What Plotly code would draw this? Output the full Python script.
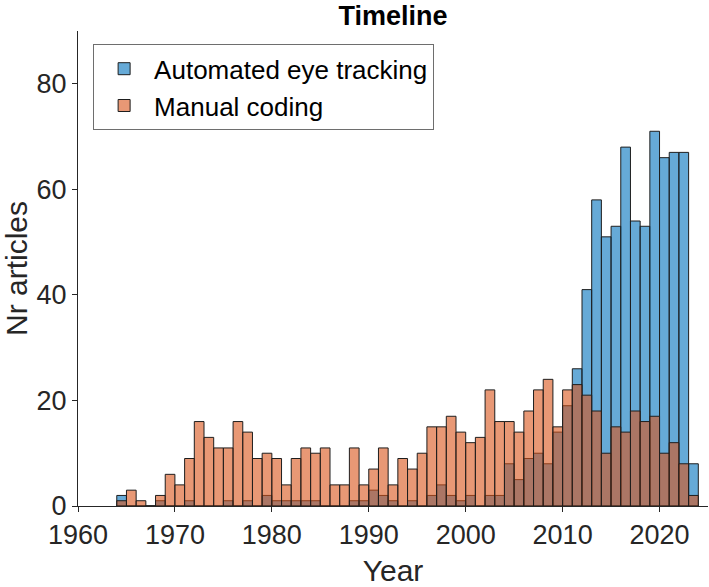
import plotly.graph_objects as go

years = list(range(1964, 2024))
manual_coding = [1, 3, 1, 0, 2, 6, 4, 9, 16, 13, 11, 11, 16, 14, 9, 10, 9, 4, 9, 11,
                 10, 11, 4, 4, 11, 4, 7, 11, 4, 9, 7, 10, 15, 15, 17, 14, 12, 13, 22, 16,
                 16, 14, 18, 22, 24, 15, 22, 23, 21, 18, 10, 15, 14, 18, 16, 17, 10, 12, 8, 2]
automated = [2, 0, 0, 0, 1, 0, 0, 1, 0, 0, 0, 1, 0, 1, 0, 2, 1, 1, 1, 1,
             1, 0, 0, 0, 1, 1, 3, 2, 1, 0, 1, 0, 2, 4, 2, 1, 2, 0, 2, 2,
             8, 5, 9, 10, 8, 14, 19, 26, 41, 58, 51, 53, 68, 54, 53, 71, 66, 67, 67, 8]
x_ticks = [1960, 1970, 1980, 1990, 2000, 2010, 2020]
y_ticks = [0, 20, 40, 60, 80]

centers = [y + 0.5 for y in years]
edge = dict(color="rgb(30,30,30)", width=1)
FONT = "Liberation Sans, Arial, sans-serif"
GRAY = "rgb(38,38,38)"

fig = go.Figure()
fig.add_trace(go.Bar(x=centers, y=automated, width=1, name="Automated eye tracking",
                     marker=dict(color="rgba(0,114,189,0.6)", line=edge)))
fig.add_trace(go.Bar(x=centers, y=manual_coding, width=1, name="Manual coding",
                     marker=dict(color="rgba(217,83,25,0.6)", line=edge)))

fig.update_layout(
    width=709, height=587,
    margin=dict(l=78, r=1, t=31, b=81),
    barmode="overlay",
    plot_bgcolor="white", paper_bgcolor="white",
    font=dict(family=FONT, size=26, color=GRAY),
    title=dict(text="<b>Timeline</b>", x=0.5, xref="paper", xanchor="center",
               y=1 - 16 / 587, yref="container", yanchor="middle",
               font=dict(family=FONT, size=27, color="black")),
    legend=dict(x=0.024, y=0.972, xanchor="left", yanchor="top",
                bgcolor="white", bordercolor="rgb(110,110,110)", borderwidth=1,
                font=dict(family=FONT, size=26, color="black"),
                itemwidth=50, tracegroupgap=0),
    showlegend=True,
)
fig.update_xaxes(range=[1960, 2025], tickvals=x_ticks, ticktext=[str(v) for v in x_ticks],
                 showline=True, linecolor=GRAY, linewidth=1, ticks="outside", ticklen=5,
                 tickcolor=GRAY, showgrid=False, zeroline=False,
                 title=dict(text="Year", font=dict(size=30, color=GRAY), standoff=10),
                 tickfont=dict(size=27, color=GRAY))
fig.update_yaxes(range=[0, 90], tickvals=y_ticks, showline=True, linecolor=GRAY, linewidth=1,
                 ticks="outside", ticklen=5, tickcolor=GRAY, showgrid=False, zeroline=False,
                 title=dict(text="Nr articles", font=dict(size=30, color=GRAY), standoff=10),
                 tickfont=dict(size=27, color=GRAY))

fig.write_html("out.html")
